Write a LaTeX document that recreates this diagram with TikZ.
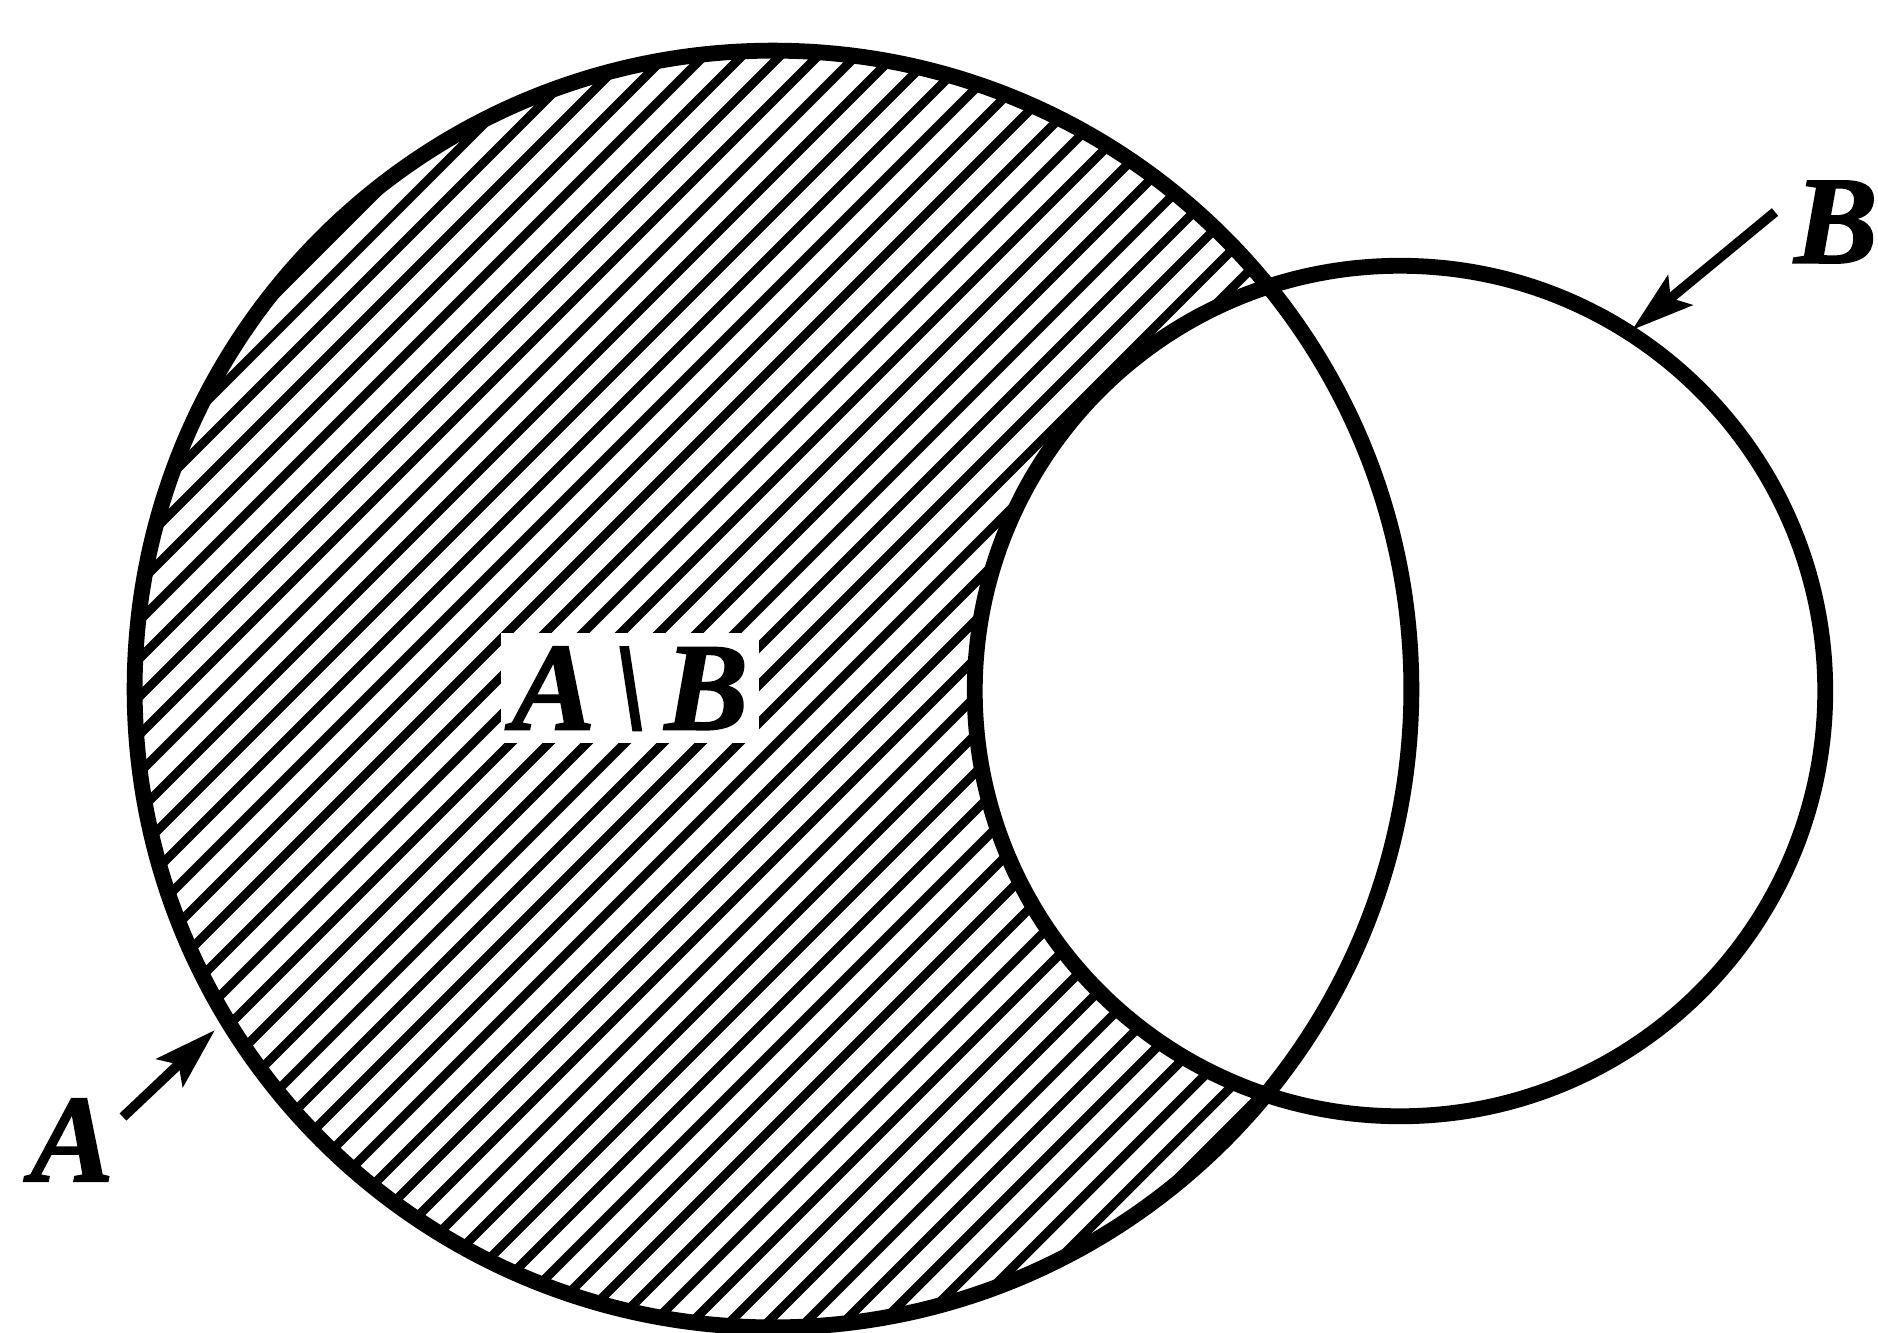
\documentclass[tikz,border=0pt]{standalone}
\usepackage{fontspec}
\setmainfont{Liberation Serif}
\newfontface\labfont{Liberation Serif Bold Italic}[FakeBold=1.5]
\usetikzlibrary{arrows.meta}
\begin{document}
\begin{tikzpicture}[x=0.01cm,y=-0.01cm,
  ring/.style={line width=4.5pt},
  hatch/.style={line width=2.6pt},
  pointer/.style={line width=2.8pt,-{Stealth[length=0.62cm,width=0.38cm,inset=0.12cm]}},
  lab/.style={font=\fontsize{35.5pt}{40pt}\labfont,inner sep=0pt}]
\useasboundingbox (0,0) rectangle (1878,1332);
\coordinate (cA) at (773,689);
\coordinate (cB) at (1400,691);
% hatching of A \ B
\begin{scope}
  \clip (cA) circle [radius=6.38cm];
  \begin{scope}[even odd rule]
    \clip (-10,-10) rectangle (1900,1350) (cB) circle [radius=4.25cm];
    \foreach \k in {0,38,...,3400} \draw[hatch] (-100,\k+100) -- (2000,\k-2000);
  \end{scope}
\end{scope}
\draw[ring] (cA) circle [radius=6.38cm];
\draw[ring] (cB) circle [radius=4.25cm];
% label A\B
\node[lab,fill=white,inner xsep=3pt,inner ysep=3.8pt,text height=23.5pt,text depth=0pt] (AB) at (630,688) {A\kern5pt\textbackslash\kern5pt B};
% labels A and B with pointers
\node[lab] (LA) at (72,1140) {A};
\node[lab] (LB) at (1836,222) {B};
\coordinate (Atail) at (123,1117);
\coordinate (Atip) at (215,1030);
\coordinate (Btail) at (1775,212);
\coordinate (Btip) at (1632,330);
\draw[pointer] (Atail) -- (Atip);
\draw[pointer] (Btail) -- (Btip);
\end{tikzpicture}
\end{document}
